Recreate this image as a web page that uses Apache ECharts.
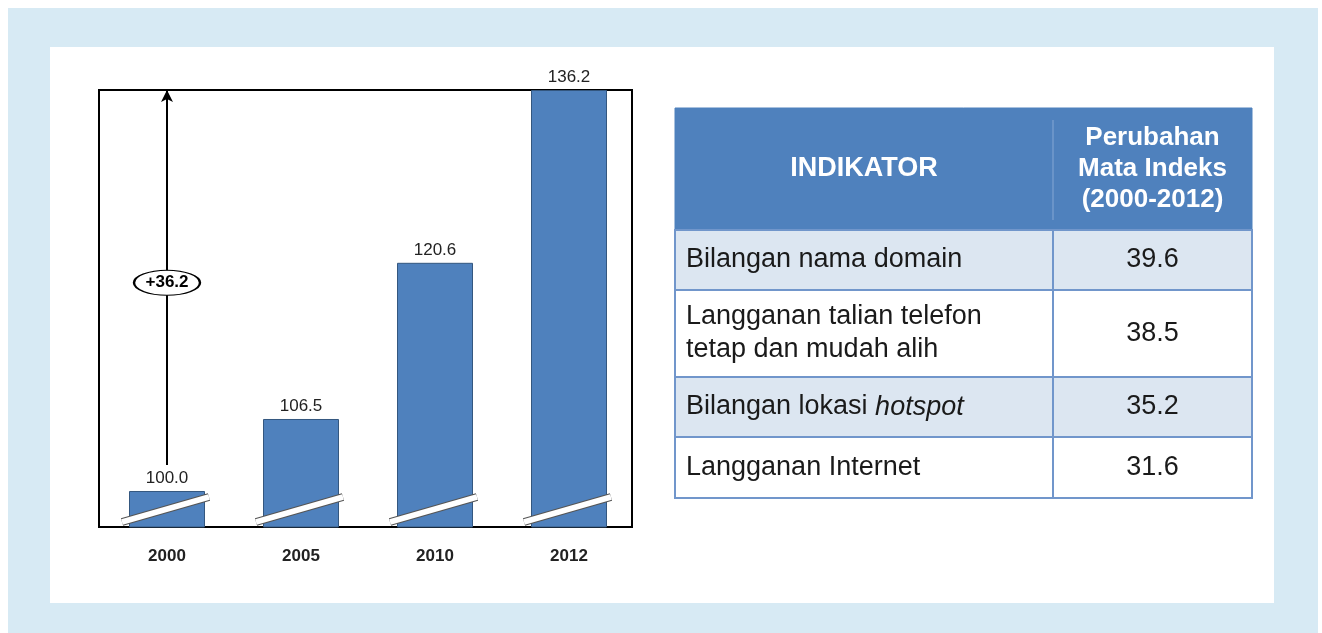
<!DOCTYPE html>
<html>
<head>
<meta charset="utf-8">
<script src="https://cdn.jsdelivr.net/npm/echarts@6/dist/echarts.min.js"></script>
<style>
  html, body { margin: 0; padding: 0; background: #ffffff; }
  #outer { position: absolute; left: 8px; top: 8px; width: 1310px; height: 625px; background: #d7eaf4; }
  #panel { position: absolute; left: 50px; top: 47px; width: 1224px; height: 556px; background: #ffffff; }
  #chart { position: absolute; left: 0; top: 0; width: 1322px; height: 633px; }
</style>
</head>
<body>
<div id="outer"></div>
<div id="panel"></div>
<div id="chart"></div>
<script>
// ---- data ----
const years = ['2000', '2005', '2010', '2012'];
const indexValues = [100.0, 106.5, 120.6, 136.2];
const tableHeader = ['INDIKATOR', 'Perubahan\nMata Indeks\n(2000-2012)'];
const indicators = ['Bilangan nama domain', 'Langganan talian telefon\ntetap dan mudah alih', 'Bilangan lokasi hotspot', 'Langganan Internet'];
const italicTerms = ['hotspot'];
const indexChanges = [39.6, 38.5, 35.2, 31.6];

// ---- layout ----
const FONT = 'Liberation Sans, Arial, sans-serif';
const yMin = 96.75, yMax = 136.2;
const arrowFrom = 102.35, ellipseAt = 118.8;
const totalChange = (indexValues[indexValues.length - 1] - indexValues[0]).toFixed(1);

const tblX0 = 675, tblXDiv = 1053, tblX1 = 1252;
const headTop = 108, headBottom = 230;
const rowTops = [230, 290, 377, 437, 498];

function richLabel(t) {
  let s = t;
  italicTerms.forEach(w => { s = s.split(w).join('{i|' + w + '}'); });
  return s;
}

const graphics = [];
graphics.push({ type: 'rect', z: 10, shape: { x: tblX0, y: headTop, width: tblX1 - tblX0, height: headBottom - headTop },
  style: { fill: '#4f81bd', stroke: '#4f81bd', lineWidth: 1 } });
graphics.push({ type: 'line', z: 11, shape: { x1: tblXDiv, y1: headTop + 12, x2: tblXDiv, y2: headBottom - 10 },
  style: { stroke: '#86a7d4', lineWidth: 1 } });
graphics.push({ type: 'text', z: 12, x: (tblX0 + tblXDiv) / 2, y: (headTop + headBottom) / 2,
  style: { text: tableHeader[0], fill: '#ffffff', font: 'bold 27px ' + FONT, align: 'center', verticalAlign: 'middle' } });
graphics.push({ type: 'text', z: 12, x: (tblXDiv + tblX1) / 2, y: (headTop + headBottom) / 2,
  style: { text: tableHeader[1], fill: '#ffffff', font: 'bold 26px ' + FONT, lineHeight: 31, align: 'center', verticalAlign: 'middle' } });

indicators.forEach((name, i) => {
  const top = rowTops[i], h = rowTops[i + 1] - rowTops[i];
  graphics.push({ type: 'rect', z: 10, shape: { x: tblX0, y: top, width: tblX1 - tblX0, height: h },
    style: { fill: i % 2 === 0 ? '#dce6f1' : '#ffffff', stroke: '#7196cb', lineWidth: 2 } });
  graphics.push({ type: 'line', z: 11, shape: { x1: tblXDiv, y1: top, x2: tblXDiv, y2: top + h },
    style: { stroke: '#7196cb', lineWidth: 2 } });
  graphics.push({ type: 'text', z: 12, x: tblX0 + 11, y: top + h / 2,
    style: { text: richLabel(name), fill: '#1a1a1a', font: '27px ' + FONT, lineHeight: 33, align: 'left', verticalAlign: 'middle',
      rich: { i: { fontStyle: 'italic', fontSize: 27, fontFamily: FONT, fill: '#1a1a1a', lineHeight: 33 } } } });
  graphics.push({ type: 'text', z: 12, x: (tblXDiv + tblX1) / 2, y: top + h / 2,
    style: { text: indexChanges[i].toFixed(1), fill: '#1a1a1a', font: '27px ' + FONT, align: 'center', verticalAlign: 'middle' } });
});

const chart = echarts.init(document.getElementById('chart'));
chart.setOption({
  animation: false,
  backgroundColor: 'transparent',
  grid: [
    { left: 99, top: 90, width: 533, height: 437, show: true, borderColor: '#000', borderWidth: 2, backgroundColor: '#ffffff' },
    { left: 100, top: 90, width: 536, height: 437, show: false }
  ],
  xAxis: [
    { gridIndex: 0, type: 'category', data: years, show: false },
    {
      gridIndex: 1, type: 'category', data: years,
      axisLine: { show: false },
      axisTick: { show: false },
      axisLabel: { margin: 21, fontSize: 17, fontWeight: 'bold', color: '#222', fontFamily: FONT }
    }
  ],
  yAxis: [
    { gridIndex: 0, type: 'value', min: yMin, max: yMax, show: false, splitLine: { show: false } },
    { gridIndex: 1, type: 'value', min: yMin, max: yMax, show: false, splitLine: { show: false } }
  ],
  series: [
    {
      type: 'bar', xAxisIndex: 1, yAxisIndex: 1, data: indexValues, barWidth: 76, z: 2,
      itemStyle: { color: '#4f81bd', borderColor: '#34577f', borderWidth: 1 },
      label: { show: true, position: 'top', distance: 4, fontSize: 17, color: '#222', fontFamily: FONT,
        formatter: p => p.value.toFixed(1) },
      markLine: {
        silent: true, z: 5, symbol: ['none', 'arrow'], symbolSize: [9, 12],
        lineStyle: { color: '#000', width: 2, type: 'solid' },
        label: { show: false },
        data: [[{ coord: [years[0], arrowFrom] }, { coord: [years[0], yMax] }]]
      },
      markPoint: {
        silent: true, z: 6,
        symbol: 'circle', symbolSize: [66, 25],
        itemStyle: { color: '#ffffff', borderColor: '#000', borderWidth: 1.5 },
        label: { show: true, position: 'inside', formatter: '+' + totalChange, fontWeight: 'bold', fontSize: 17, color: '#000', fontFamily: FONT },
        data: [{ coord: [years[0], ellipseAt] }]
      }
    },
    {
      type: 'custom', xAxisIndex: 1, yAxisIndex: 1, z: 4, silent: true,
      data: years.map((y, i) => [i]),
      encode: { x: 0 },
      renderItem: (params, api) => {
        const base = api.coord([api.value(0), yMin]);
        const cx = base[0], by = base[1];
        const shape = { x1: cx - 45, y1: by - 5, x2: cx + 42, y2: by - 30 };
        return {
          type: 'group', children: [
            { type: 'line', shape: shape, style: { stroke: '#555', lineWidth: 8, lineCap: 'butt' } },
            { type: 'line', shape: shape, style: { stroke: '#ffffff', lineWidth: 5.5, lineCap: 'butt' } }
          ]
        };
      }
    }
  ],
  graphic: graphics
});
</script>
</body>
</html>
